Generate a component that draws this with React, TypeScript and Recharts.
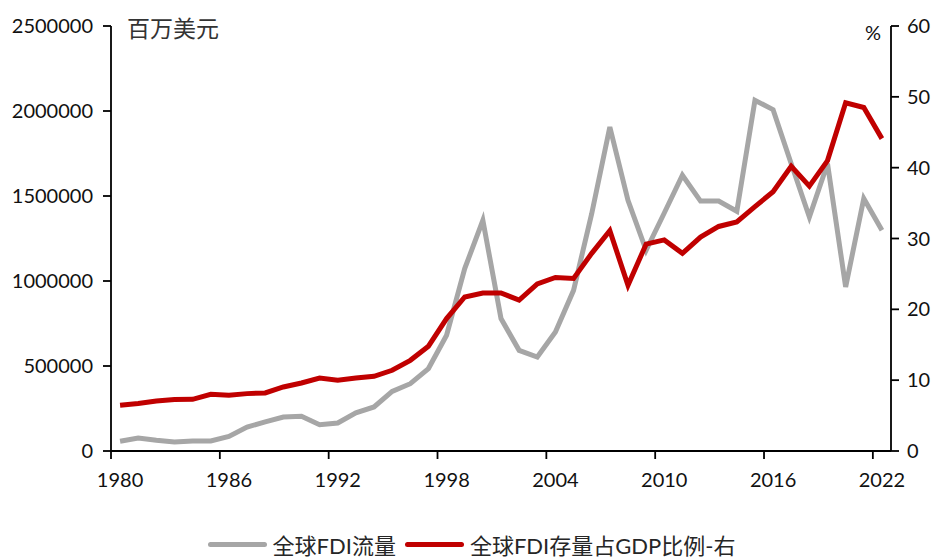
import React from 'react';
import { LineChart, Line, XAxis, YAxis, Legend } from 'recharts';

const years = [
  1980, 1981, 1982, 1983, 1984, 1985, 1986, 1987, 1988, 1989,
  1990, 1991, 1992, 1993, 1994, 1995, 1996, 1997, 1998, 1999,
  2000, 2001, 2002, 2003, 2004, 2005, 2006, 2007, 2008, 2009,
  2010, 2011, 2012, 2013, 2014, 2015, 2016, 2017, 2018, 2019,
  2020, 2021, 2022,
];

// 全球FDI流量 (百万美元)
const fdiFlow = [
  57000, 76000, 63000, 53000, 59000, 59000, 86000, 141000, 171000, 200000,
  204000, 155000, 165000, 224000, 259000, 351000, 396000, 485000, 681000, 1073000,
  1357000, 779000, 592000, 553000, 700000, 945000, 1396000, 1906000, 1475000, 1181000,
  1400000, 1622000, 1470000, 1470000, 1410000, 2063000, 2008000, 1690000, 1376000, 1690000,
  965000, 1485000, 1298000,
];

// 全球FDI存量占GDP比例 (%)
const fdiStockRatio = [
  6.45, 6.7, 7.06, 7.26, 7.3, 8.0, 7.87, 8.1, 8.2, 9.04,
  9.6, 10.3, 10.0, 10.3, 10.55, 11.4, 12.8, 14.8, 18.7, 21.75,
  22.3, 22.3, 21.3, 23.6, 24.5, 24.35, 27.9, 31.1, 23.4, 29.2,
  29.8, 27.9, 30.2, 31.7, 32.35, 34.5, 36.6, 40.2, 37.4, 41.0,
  49.15, 48.5, 44.1,
];

const xTicks = [1980, 1986, 1992, 1998, 2004, 2010, 2016, 2022];
const leftTicks = [0, 500000, 1000000, 1500000, 2000000, 2500000];
const rightTicks = [0, 10, 20, 30, 40, 50, 60];

const seriesNames = ['全球FDI流量', '全球FDI存量占GDP比例-右'];
const unitLeft = '百万美元';
const unitRight = '%';

const GRAY = '#A6A6A6';
const RED = '#C00000';
const FONT = "Lato, 'Noto Sans CJK SC', sans-serif";

// category band centre = year + 0.5
const data = years.map((y, i) => ({
  year: y,
  pos: y + 0.5,
  flow: fdiFlow[i],
  ratio: fdiStockRatio[i],
}));

const CHART_W = 933;
const CHART_H = 559;
const LEFT_W = 111;
const RIGHT_W = 42;
const PLOT_W = CHART_W - LEFT_W - RIGHT_W;
const X_MIN = 1980;
const X_MAX = 2023;
const HALF_BAND = PLOT_W / (X_MAX - X_MIN) / 2;

const XTick = (props: any) => {
  const { x, y, payload } = props;
  return (
    <text x={x + HALF_BAND} y={y} dy="0.71em" textAnchor="middle" fill="#111" fontSize={20} fontFamily={FONT}>
      {payload.value}
    </text>
  );
};

const LegendContent = () => (
  <div
    style={{
      display: 'flex',
      justifyContent: 'center',
      alignItems: 'center',
      height: 30,
      paddingLeft: 10,
      boxSizing: 'border-box',
      fontFamily: FONT,
      fontSize: 22,
      color: '#262626',
      whiteSpace: 'nowrap',
    }}
  >
    <span style={{ display: 'inline-block', width: 59, height: 5, background: GRAY, borderRadius: 2.5, marginRight: 6 }} />
    <span style={{ marginRight: 9 }}>{seriesNames[0]}</span>
    <span style={{ display: 'inline-block', width: 59, height: 5, background: RED, borderRadius: 2.5, marginRight: 6 }} />
    <span>{seriesNames[1]}</span>
  </div>
);

export default function App() {
  return (
    <div style={{ position: 'relative', width: CHART_W, height: CHART_H, fontFamily: FONT, overflow: 'hidden' }}>
      <style>{`html,body{margin:0;padding:0;overflow:hidden;}`}</style>
      <LineChart
        width={CHART_W}
        height={CHART_H}
        data={data}
        margin={{ top: 26, right: 0, bottom: 0, left: 0 }}
      >
        <XAxis
          dataKey="pos"
          type="number"
          domain={[X_MIN, X_MAX]}
          ticks={xTicks}
          interval={0}
          height={78}
          tickSize={8}
          tickMargin={14}
          tick={<XTick />}
          axisLine={{ stroke: '#000', strokeWidth: 1.8 }}
          tickLine={{ stroke: '#000', strokeWidth: 1.8 }}
          allowDecimals={false}
        />
        <YAxis
          yAxisId="left"
          orientation="left"
          width={LEFT_W}
          domain={[0, 2500000]}
          ticks={leftTicks}
          interval={0}
          tickSize={8}
          tickMargin={10}
          tick={{ fill: '#111', fontSize: 20, fontFamily: FONT }}
          axisLine={{ stroke: '#000', strokeWidth: 1.8 }}
          tickLine={{ stroke: '#000', strokeWidth: 1.8 }}
        />
        <YAxis
          yAxisId="right"
          orientation="right"
          width={RIGHT_W}
          domain={[0, 60]}
          ticks={rightTicks}
          interval={0}
          tickSize={8}
          tickMargin={8}
          tick={{ fill: '#111', fontSize: 20, fontFamily: FONT }}
          axisLine={{ stroke: '#000', strokeWidth: 1.8 }}
          tickLine={{ stroke: '#000', strokeWidth: 1.8 }}
        />
        <Legend
          verticalAlign="bottom"
          content={<LegendContent />}
          wrapperStyle={{ left: 0, width: CHART_W, height: 30 }}
        />
        <Line
          yAxisId="left"
          type="linear"
          dataKey="flow"
          name={seriesNames[0]}
          stroke={GRAY}
          strokeWidth={5}
          dot={false}
          activeDot={false}
          isAnimationActive={false}
        />
        <Line
          yAxisId="right"
          type="linear"
          dataKey="ratio"
          name={seriesNames[1]}
          stroke={RED}
          strokeWidth={5}
          dot={false}
          activeDot={false}
          isAnimationActive={false}
        />
      </LineChart>
      <div
        style={{
          position: 'absolute',
          left: 127,
          top: 16,
          fontSize: 23,
          lineHeight: '23px',
          color: '#333',
          fontFamily: "'Noto Sans CJK SC', sans-serif",
        }}
      >
        {unitLeft}
      </div>
      <div
        style={{
          position: 'absolute',
          left: 865,
          top: 20,
          fontSize: 20,
          lineHeight: '24px',
          color: '#111',
        }}
      >
        {unitRight}
      </div>
    </div>
  );
}
